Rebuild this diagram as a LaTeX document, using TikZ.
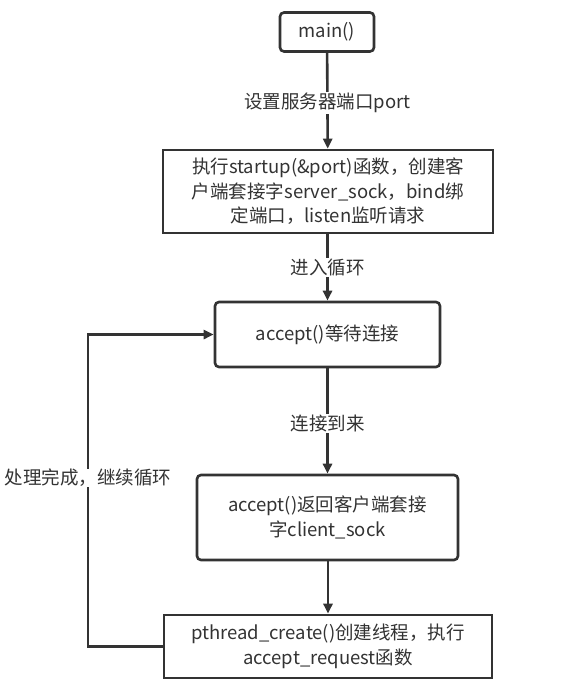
\documentclass[tikz,border=0pt]{standalone}
\usepackage{fontspec}
\setmainfont{Noto Sans CJK SC}
\usetikzlibrary{arrows.meta}
\definecolor{ink}{HTML}{333333}
\begin{document}
\begin{tikzpicture}[x=1pt,y=-1pt,
  box/.style={draw=ink, line width=2.6pt, fill=white, text=ink, align=center,
    font=\fontsize{18.5}{24.5}\selectfont, inner sep=0pt},
  rbox/.style={box, rounded corners=4pt},
  lbl/.style={fill=white, text=ink, font=\fontsize{18.5}{24.5}\selectfont, inner sep=1pt},
  conn/.style={draw=ink, line width=2.6pt, -{Triangle[length=10pt,width=9pt]}}]
\useasboundingbox (0,0) rectangle (570,697);
\node[rbox, minimum width=94pt, minimum height=39pt] (main) at (327,32) {main()};
\node[box, minimum width=330pt, minimum height=83pt] (startup) at (328,191.5)
  {执行startup(\&port)函数，创建客\\户端套接字server\_sock，bind绑\\定端口，listen监听请求};
\node[rbox, minimum width=225pt, minimum height=65pt] (accept) at (327.5,334.5) {accept()等待连接};
\node[rbox, minimum width=261pt, minimum height=85pt] (ret) at (327.5,517.5)
  {accept()返回客户端套接\\字client\_sock};
\node[box, minimum width=328pt, minimum height=63pt] (pth) at (328,646.5)
  {pthread\_create()创建线程，执行\\accept\_request函数};
\draw[conn] (main) -- node[lbl, pos=0.52] {设置服务器端口port} (startup);
\draw[conn] (startup.south -| accept.north) -- node[lbl, pos=0.5] {进入循环} (accept);
\draw[conn] (accept) -- node[lbl, pos=0.52] {连接到来} (ret);
\draw[conn] (ret.south -| pth.north) -- (pth);
\coordinate (c1) at (88,646.5);
\coordinate (c2) at (88,334.5);
\draw[conn] (pth.west) -- (c1) -- (c2) -- (accept.west);
\node[lbl, inner sep=0pt] (loop) at (88,478) {处理完成，继续循环};
\end{tikzpicture}
\end{document}
